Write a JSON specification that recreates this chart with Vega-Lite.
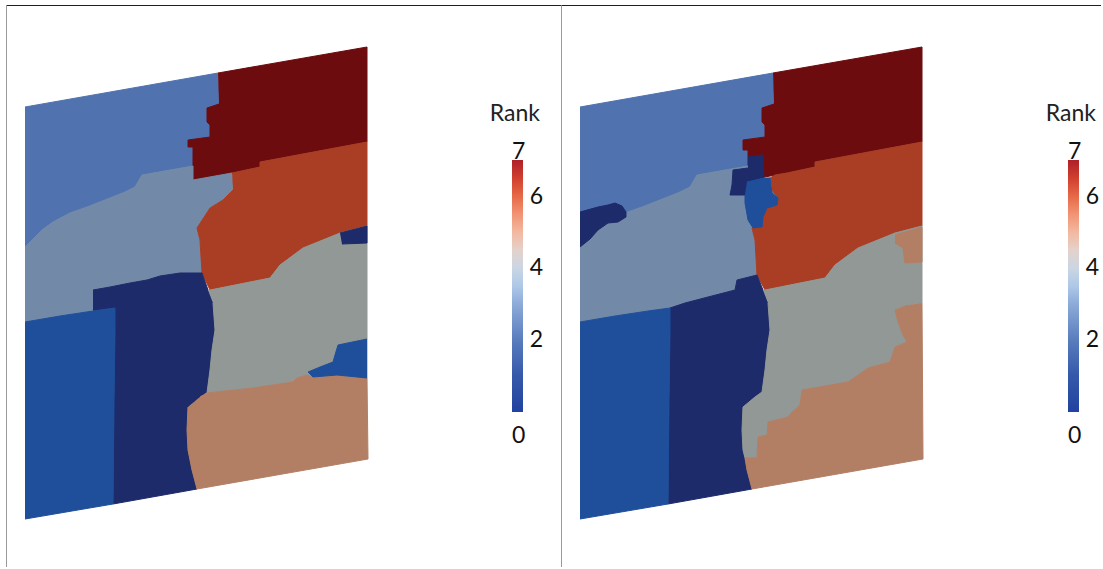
{
"$schema": "https://vega.github.io/schema/vega-lite/v6.json",
"background": "white",
"padding": {"left": 6, "top": 5, "right": 0, "bottom": 0},
"spacing": 0,
"bounds": "flush",
"resolve": {"scale": {"color": "independent", "fill": "independent", "stroke": "independent"}, "legend": {"color": "independent"}},
"config": {
  "view": {"stroke": null},
  "axis": {"ticks": false, "labels": false, "grid": false, "domainWidth": 1},
  "concat": {"spacing": 0}
},
"datasets": {
"ranks": [{"v": 0}, {"v": 7}],
"Lb": [
{"poly":"r2","rank":2,"x":25,"y":107},{"poly":"r2","rank":2,"x":218,"y":73},{"poly":"r2","rank":2,"x":219,"y":104},{"poly":"r2","rank":2,"x":207,"y":108},{"poly":"r2","rank":2,"x":207,"y":122},{"poly":"r2","rank":2,"x":210,"y":125},{"poly":"r2","rank":2,"x":210,"y":137},{"poly":"r2","rank":2,"x":188,"y":140},{"poly":"r2","rank":2,"x":188,"y":147},{"poly":"r2","rank":2,"x":193,"y":147},{"poly":"r2","rank":2,"x":193,"y":166},{"poly":"r2","rank":2,"x":142,"y":175},{"poly":"r2","rank":2,"x":135,"y":187},{"poly":"r2","rank":2,"x":125,"y":192},{"poly":"r2","rank":2,"x":110,"y":198},{"poly":"r2","rank":2,"x":87,"y":207},{"poly":"r2","rank":2,"x":70,"y":213},{"poly":"r2","rank":2,"x":53,"y":222},{"poly":"r2","rank":2,"x":42,"y":230},{"poly":"r2","rank":2,"x":35,"y":237},{"poly":"r2","rank":2,"x":25,"y":247},
{"poly":"r7","rank":7,"x":218,"y":73},{"poly":"r7","rank":7,"x":367,"y":47},{"poly":"r7","rank":7,"x":367,"y":142},{"poly":"r7","rank":7,"x":260,"y":162},{"poly":"r7","rank":7,"x":260,"y":167},{"poly":"r7","rank":7,"x":232,"y":173},{"poly":"r7","rank":7,"x":193,"y":180},{"poly":"r7","rank":7,"x":193,"y":147},{"poly":"r7","rank":7,"x":188,"y":147},{"poly":"r7","rank":7,"x":188,"y":140},{"poly":"r7","rank":7,"x":210,"y":137},{"poly":"r7","rank":7,"x":210,"y":125},{"poly":"r7","rank":7,"x":207,"y":122},{"poly":"r7","rank":7,"x":207,"y":108},{"poly":"r7","rank":7,"x":219,"y":104},
{"poly":"r3","rank":3,"x":25,"y":247},{"poly":"r3","rank":3,"x":35,"y":237},{"poly":"r3","rank":3,"x":42,"y":230},{"poly":"r3","rank":3,"x":53,"y":222},{"poly":"r3","rank":3,"x":70,"y":213},{"poly":"r3","rank":3,"x":87,"y":207},{"poly":"r3","rank":3,"x":110,"y":198},{"poly":"r3","rank":3,"x":125,"y":192},{"poly":"r3","rank":3,"x":135,"y":187},{"poly":"r3","rank":3,"x":142,"y":175},{"poly":"r3","rank":3,"x":193,"y":166},{"poly":"r3","rank":3,"x":193,"y":180},{"poly":"r3","rank":3,"x":232,"y":173},{"poly":"r3","rank":3,"x":233,"y":190},{"poly":"r3","rank":3,"x":223,"y":200},{"poly":"r3","rank":3,"x":210,"y":208},{"poly":"r3","rank":3,"x":197,"y":228},{"poly":"r3","rank":3,"x":200,"y":240},{"poly":"r3","rank":3,"x":202,"y":273},{"poly":"r3","rank":3,"x":180,"y":273},{"poly":"r3","rank":3,"x":160,"y":276},{"poly":"r3","rank":3,"x":147,"y":280},{"poly":"r3","rank":3,"x":130,"y":283},{"poly":"r3","rank":3,"x":110,"y":287},{"poly":"r3","rank":3,"x":93,"y":290},{"poly":"r3","rank":3,"x":93,"y":311},{"poly":"r3","rank":3,"x":60,"y":316},{"poly":"r3","rank":3,"x":25,"y":322},
{"poly":"r6","rank":6,"x":232,"y":173},{"poly":"r6","rank":6,"x":260,"y":167},{"poly":"r6","rank":6,"x":260,"y":162},{"poly":"r6","rank":6,"x":367,"y":142},{"poly":"r6","rank":6,"x":367,"y":226},{"poly":"r6","rank":6,"x":340,"y":233},{"poly":"r6","rank":6,"x":303,"y":248},{"poly":"r6","rank":6,"x":280,"y":265},{"poly":"r6","rank":6,"x":270,"y":278},{"poly":"r6","rank":6,"x":210,"y":290},{"poly":"r6","rank":6,"x":202,"y":273},{"poly":"r6","rank":6,"x":200,"y":240},{"poly":"r6","rank":6,"x":197,"y":228},{"poly":"r6","rank":6,"x":210,"y":208},{"poly":"r6","rank":6,"x":223,"y":200},{"poly":"r6","rank":6,"x":233,"y":190},
{"poly":"r0","rank":0,"x":93,"y":290},{"poly":"r0","rank":0,"x":110,"y":287},{"poly":"r0","rank":0,"x":130,"y":283},{"poly":"r0","rank":0,"x":147,"y":280},{"poly":"r0","rank":0,"x":160,"y":276},{"poly":"r0","rank":0,"x":180,"y":273},{"poly":"r0","rank":0,"x":202,"y":273},{"poly":"r0","rank":0,"x":208,"y":290},{"poly":"r0","rank":0,"x":213,"y":303},{"poly":"r0","rank":0,"x":215,"y":330},{"poly":"r0","rank":0,"x":212,"y":350},{"poly":"r0","rank":0,"x":210,"y":370},{"poly":"r0","rank":0,"x":207,"y":392},{"poly":"r0","rank":0,"x":200,"y":397},{"poly":"r0","rank":0,"x":188,"y":407},{"poly":"r0","rank":0,"x":187,"y":430},{"poly":"r0","rank":0,"x":188,"y":450},{"poly":"r0","rank":0,"x":192,"y":470},{"poly":"r0","rank":0,"x":197,"y":489},{"poly":"r0","rank":0,"x":113,"y":504},{"poly":"r0","rank":0,"x":114,"y":400},{"poly":"r0","rank":0,"x":115,"y":330},{"poly":"r0","rank":0,"x":115,"y":308},{"poly":"r0","rank":0,"x":93,"y":311},
{"poly":"r1","rank":1,"x":25,"y":322},{"poly":"r1","rank":1,"x":60,"y":316},{"poly":"r1","rank":1,"x":93,"y":311},{"poly":"r1","rank":1,"x":115,"y":308},{"poly":"r1","rank":1,"x":115,"y":330},{"poly":"r1","rank":1,"x":114,"y":400},{"poly":"r1","rank":1,"x":113,"y":504},{"poly":"r1","rank":1,"x":25,"y":519},
{"poly":"r4","rank":4,"x":208,"y":290},{"poly":"r4","rank":4,"x":210,"y":290},{"poly":"r4","rank":4,"x":270,"y":278},{"poly":"r4","rank":4,"x":280,"y":265},{"poly":"r4","rank":4,"x":303,"y":248},{"poly":"r4","rank":4,"x":340,"y":233},{"poly":"r4","rank":4,"x":367,"y":226},{"poly":"r4","rank":4,"x":367,"y":378},{"poly":"r4","rank":4,"x":337,"y":375},{"poly":"r4","rank":4,"x":313,"y":377},{"poly":"r4","rank":4,"x":307,"y":375},{"poly":"r4","rank":4,"x":297,"y":378},{"poly":"r4","rank":4,"x":293,"y":382},{"poly":"r4","rank":4,"x":253,"y":388},{"poly":"r4","rank":4,"x":207,"y":393},{"poly":"r4","rank":4,"x":210,"y":370},{"poly":"r4","rank":4,"x":212,"y":350},{"poly":"r4","rank":4,"x":215,"y":330},{"poly":"r4","rank":4,"x":213,"y":303},
{"poly":"r5","rank":5,"x":200,"y":397},{"poly":"r5","rank":5,"x":207,"y":393},{"poly":"r5","rank":5,"x":253,"y":388},{"poly":"r5","rank":5,"x":293,"y":382},{"poly":"r5","rank":5,"x":297,"y":378},{"poly":"r5","rank":5,"x":307,"y":375},{"poly":"r5","rank":5,"x":313,"y":377},{"poly":"r5","rank":5,"x":337,"y":375},{"poly":"r5","rank":5,"x":367,"y":378},{"poly":"r5","rank":5,"x":368,"y":459},{"poly":"r5","rank":5,"x":197,"y":489},{"poly":"r5","rank":5,"x":192,"y":470},{"poly":"r5","rank":5,"x":188,"y":450},{"poly":"r5","rank":5,"x":187,"y":430},{"poly":"r5","rank":5,"x":188,"y":407}
],
"Lp": [
{"poly":"p0","rank":0,"x":340,"y":233},{"poly":"p0","rank":0,"x":367,"y":226},{"poly":"p0","rank":0,"x":367,"y":243},{"poly":"p0","rank":0,"x":342,"y":244},
{"poly":"p1","rank":1,"x":367,"y":339},{"poly":"p1","rank":1,"x":338,"y":345},{"poly":"p1","rank":1,"x":335,"y":355},{"poly":"p1","rank":1,"x":333,"y":362},{"poly":"p1","rank":1,"x":320,"y":367},{"poly":"p1","rank":1,"x":308,"y":372},{"poly":"p1","rank":1,"x":313,"y":377},{"poly":"p1","rank":1,"x":337,"y":375},{"poly":"p1","rank":1,"x":367,"y":378}
],
"Rb": [
{"poly":"r2","rank":2,"x":25,"y":107},{"poly":"r2","rank":2,"x":218,"y":73},{"poly":"r2","rank":2,"x":219,"y":104},{"poly":"r2","rank":2,"x":207,"y":108},{"poly":"r2","rank":2,"x":207,"y":122},{"poly":"r2","rank":2,"x":210,"y":125},{"poly":"r2","rank":2,"x":210,"y":137},{"poly":"r2","rank":2,"x":188,"y":140},{"poly":"r2","rank":2,"x":188,"y":148},{"poly":"r2","rank":2,"x":193,"y":148},{"poly":"r2","rank":2,"x":193,"y":166},{"poly":"r2","rank":2,"x":142,"y":175},{"poly":"r2","rank":2,"x":135,"y":187},{"poly":"r2","rank":2,"x":125,"y":192},{"poly":"r2","rank":2,"x":110,"y":198},{"poly":"r2","rank":2,"x":87,"y":207},{"poly":"r2","rank":2,"x":70,"y":213},{"poly":"r2","rank":2,"x":53,"y":222},{"poly":"r2","rank":2,"x":42,"y":230},{"poly":"r2","rank":2,"x":35,"y":237},{"poly":"r2","rank":2,"x":25,"y":247},
{"poly":"r7","rank":7,"x":218,"y":73},{"poly":"r7","rank":7,"x":367,"y":47},{"poly":"r7","rank":7,"x":367,"y":142},{"poly":"r7","rank":7,"x":260,"y":162},{"poly":"r7","rank":7,"x":260,"y":167},{"poly":"r7","rank":7,"x":232,"y":173},{"poly":"r7","rank":7,"x":193,"y":180},{"poly":"r7","rank":7,"x":193,"y":150},{"poly":"r7","rank":7,"x":188,"y":150},{"poly":"r7","rank":7,"x":188,"y":140},{"poly":"r7","rank":7,"x":210,"y":137},{"poly":"r7","rank":7,"x":210,"y":125},{"poly":"r7","rank":7,"x":207,"y":122},{"poly":"r7","rank":7,"x":207,"y":108},{"poly":"r7","rank":7,"x":219,"y":104},
{"poly":"r3","rank":3,"x":25,"y":247},{"poly":"r3","rank":3,"x":35,"y":237},{"poly":"r3","rank":3,"x":42,"y":230},{"poly":"r3","rank":3,"x":53,"y":222},{"poly":"r3","rank":3,"x":70,"y":213},{"poly":"r3","rank":3,"x":87,"y":207},{"poly":"r3","rank":3,"x":110,"y":198},{"poly":"r3","rank":3,"x":125,"y":192},{"poly":"r3","rank":3,"x":135,"y":187},{"poly":"r3","rank":3,"x":142,"y":175},{"poly":"r3","rank":3,"x":193,"y":166},{"poly":"r3","rank":3,"x":193,"y":180},{"poly":"r3","rank":3,"x":215,"y":178},{"poly":"r3","rank":3,"x":217,"y":190},{"poly":"r3","rank":3,"x":222,"y":197},{"poly":"r3","rank":3,"x":223,"y":203},{"poly":"r3","rank":3,"x":210,"y":210},{"poly":"r3","rank":3,"x":207,"y":218},{"poly":"r3","rank":3,"x":205,"y":225},{"poly":"r3","rank":3,"x":197,"y":228},{"poly":"r3","rank":3,"x":200,"y":240},{"poly":"r3","rank":3,"x":202,"y":275},{"poly":"r3","rank":3,"x":182,"y":280},{"poly":"r3","rank":3,"x":180,"y":290},{"poly":"r3","rank":3,"x":153,"y":297},{"poly":"r3","rank":3,"x":130,"y":303},{"poly":"r3","rank":3,"x":115,"y":308},{"poly":"r3","rank":3,"x":93,"y":311},{"poly":"r3","rank":3,"x":60,"y":316},{"poly":"r3","rank":3,"x":25,"y":322},
{"poly":"r6","rank":6,"x":215,"y":178},{"poly":"r6","rank":6,"x":220,"y":175},{"poly":"r6","rank":6,"x":232,"y":173},{"poly":"r6","rank":6,"x":260,"y":167},{"poly":"r6","rank":6,"x":260,"y":162},{"poly":"r6","rank":6,"x":367,"y":142},{"poly":"r6","rank":6,"x":367,"y":226},{"poly":"r6","rank":6,"x":340,"y":233},{"poly":"r6","rank":6,"x":303,"y":248},{"poly":"r6","rank":6,"x":280,"y":265},{"poly":"r6","rank":6,"x":270,"y":278},{"poly":"r6","rank":6,"x":210,"y":290},{"poly":"r6","rank":6,"x":202,"y":275},{"poly":"r6","rank":6,"x":200,"y":240},{"poly":"r6","rank":6,"x":197,"y":228},{"poly":"r6","rank":6,"x":205,"y":225},{"poly":"r6","rank":6,"x":207,"y":218},{"poly":"r6","rank":6,"x":210,"y":210},{"poly":"r6","rank":6,"x":223,"y":203},{"poly":"r6","rank":6,"x":222,"y":197},{"poly":"r6","rank":6,"x":217,"y":190},
{"poly":"r0","rank":0,"x":115,"y":308},{"poly":"r0","rank":0,"x":130,"y":303},{"poly":"r0","rank":0,"x":153,"y":297},{"poly":"r0","rank":0,"x":180,"y":290},{"poly":"r0","rank":0,"x":182,"y":280},{"poly":"r0","rank":0,"x":202,"y":275},{"poly":"r0","rank":0,"x":208,"y":290},{"poly":"r0","rank":0,"x":213,"y":303},{"poly":"r0","rank":0,"x":215,"y":330},{"poly":"r0","rank":0,"x":212,"y":350},{"poly":"r0","rank":0,"x":210,"y":370},{"poly":"r0","rank":0,"x":207,"y":392},{"poly":"r0","rank":0,"x":200,"y":397},{"poly":"r0","rank":0,"x":188,"y":407},{"poly":"r0","rank":0,"x":187,"y":430},{"poly":"r0","rank":0,"x":188,"y":450},{"poly":"r0","rank":0,"x":192,"y":470},{"poly":"r0","rank":0,"x":197,"y":489},{"poly":"r0","rank":0,"x":113,"y":504},{"poly":"r0","rank":0,"x":114,"y":400},{"poly":"r0","rank":0,"x":115,"y":330},
{"poly":"r1","rank":1,"x":25,"y":322},{"poly":"r1","rank":1,"x":60,"y":316},{"poly":"r1","rank":1,"x":93,"y":311},{"poly":"r1","rank":1,"x":115,"y":308},{"poly":"r1","rank":1,"x":115,"y":330},{"poly":"r1","rank":1,"x":114,"y":400},{"poly":"r1","rank":1,"x":113,"y":504},{"poly":"r1","rank":1,"x":25,"y":519},
{"poly":"r4","rank":4,"x":208,"y":290},{"poly":"r4","rank":4,"x":210,"y":290},{"poly":"r4","rank":4,"x":270,"y":278},{"poly":"r4","rank":4,"x":280,"y":265},{"poly":"r4","rank":4,"x":303,"y":248},{"poly":"r4","rank":4,"x":340,"y":233},{"poly":"r4","rank":4,"x":367,"y":226},{"poly":"r4","rank":4,"x":367,"y":303},{"poly":"r4","rank":4,"x":353,"y":305},{"poly":"r4","rank":4,"x":340,"y":310},{"poly":"r4","rank":4,"x":343,"y":322},{"poly":"r4","rank":4,"x":348,"y":335},{"poly":"r4","rank":4,"x":352,"y":342},{"poly":"r4","rank":4,"x":340,"y":347},{"poly":"r4","rank":4,"x":335,"y":362},{"poly":"r4","rank":4,"x":313,"y":368},{"poly":"r4","rank":4,"x":293,"y":382},{"poly":"r4","rank":4,"x":247,"y":390},{"poly":"r4","rank":4,"x":245,"y":405},{"poly":"r4","rank":4,"x":237,"y":412},{"poly":"r4","rank":4,"x":233,"y":417},{"poly":"r4","rank":4,"x":213,"y":422},{"poly":"r4","rank":4,"x":212,"y":435},{"poly":"r4","rank":4,"x":203,"y":437},{"poly":"r4","rank":4,"x":202,"y":458},{"poly":"r4","rank":4,"x":190,"y":458},{"poly":"r4","rank":4,"x":188,"y":450},{"poly":"r4","rank":4,"x":187,"y":430},{"poly":"r4","rank":4,"x":188,"y":407},{"poly":"r4","rank":4,"x":200,"y":397},{"poly":"r4","rank":4,"x":207,"y":392},{"poly":"r4","rank":4,"x":210,"y":370},{"poly":"r4","rank":4,"x":212,"y":350},{"poly":"r4","rank":4,"x":215,"y":330},{"poly":"r4","rank":4,"x":213,"y":303},
{"poly":"r5","rank":5,"x":367,"y":303},{"poly":"r5","rank":5,"x":368,"y":459},{"poly":"r5","rank":5,"x":197,"y":489},{"poly":"r5","rank":5,"x":192,"y":470},{"poly":"r5","rank":5,"x":190,"y":458},{"poly":"r5","rank":5,"x":202,"y":458},{"poly":"r5","rank":5,"x":203,"y":437},{"poly":"r5","rank":5,"x":212,"y":435},{"poly":"r5","rank":5,"x":213,"y":422},{"poly":"r5","rank":5,"x":233,"y":417},{"poly":"r5","rank":5,"x":237,"y":412},{"poly":"r5","rank":5,"x":245,"y":405},{"poly":"r5","rank":5,"x":247,"y":390},{"poly":"r5","rank":5,"x":293,"y":382},{"poly":"r5","rank":5,"x":313,"y":368},{"poly":"r5","rank":5,"x":335,"y":362},{"poly":"r5","rank":5,"x":340,"y":347},{"poly":"r5","rank":5,"x":352,"y":342},{"poly":"r5","rank":5,"x":348,"y":335},{"poly":"r5","rank":5,"x":343,"y":322},{"poly":"r5","rank":5,"x":340,"y":310},{"poly":"r5","rank":5,"x":353,"y":305}
],
"Rp": [
{"poly":"pA","rank":0,"x":193,"y":157},{"poly":"pA","rank":0,"x":208,"y":155},{"poly":"pA","rank":0,"x":209,"y":178},{"poly":"pA","rank":0,"x":192,"y":182},{"poly":"pA","rank":0,"x":190,"y":195},{"poly":"pA","rank":0,"x":175,"y":195},{"poly":"pA","rank":0,"x":177,"y":185},{"poly":"pA","rank":0,"x":178,"y":170},{"poly":"pA","rank":0,"x":193,"y":168},
{"poly":"pB","rank":0,"x":25,"y":212},{"poly":"pB","rank":0,"x":43,"y":207},{"poly":"pB","rank":0,"x":53,"y":205},{"poly":"pB","rank":0,"x":60,"y":203},{"poly":"pB","rank":0,"x":67,"y":206},{"poly":"pB","rank":0,"x":71,"y":212},{"poly":"pB","rank":0,"x":71,"y":217},{"poly":"pB","rank":0,"x":63,"y":222},{"poly":"pB","rank":0,"x":53,"y":223},{"poly":"pB","rank":0,"x":43,"y":230},{"poly":"pB","rank":0,"x":35,"y":239},{"poly":"pB","rank":0,"x":25,"y":247},
{"poly":"pC","rank":1,"x":192,"y":182},{"poly":"pC","rank":1,"x":209,"y":178},{"poly":"pC","rank":1,"x":215,"y":178},{"poly":"pC","rank":1,"x":217,"y":193},{"poly":"pC","rank":1,"x":223,"y":198},{"poly":"pC","rank":1,"x":222,"y":205},{"poly":"pC","rank":1,"x":212,"y":208},{"poly":"pC","rank":1,"x":208,"y":217},{"poly":"pC","rank":1,"x":207,"y":227},{"poly":"pC","rank":1,"x":198,"y":228},{"poly":"pC","rank":1,"x":193,"y":220},{"poly":"pC","rank":1,"x":190,"y":203},{"poly":"pC","rank":1,"x":190,"y":195},
{"poly":"pD","rank":5,"x":340,"y":235},{"poly":"pD","rank":5,"x":367,"y":227},{"poly":"pD","rank":5,"x":367,"y":262},{"poly":"pD","rank":5,"x":350,"y":263},{"poly":"pD","rank":5,"x":348,"y":248},{"poly":"pD","rank":5,"x":340,"y":243}
]
},
"hconcat": [
{
  "width": 555, "height": 562,
  "resolve": {"scale": {"color": "independent"}, "legend": {"color": "independent"}},
  "layer": [
    {"data": {"name": "Lb"},
     "mark": {"type": "line", "filled": true, "strokeWidth": 1, "strokeJoin": "round"},
     "encoding": {
       "x": {"field": "x", "type": "quantitative", "scale": {"domain": [6, 561], "nice": false, "zero": false}, "axis": {"orient": "top", "title": null, "domainColor": "#1e1e1e"}},
       "y": {"field": "y", "type": "quantitative", "scale": {"domain": [5, 567], "reverse": true, "nice": false, "zero": false}, "axis": {"orient": "left", "title": null, "domainColor": "#9a9a9a"}},
       "detail": {"field": "poly"},
       "order": {"value": null},
       "fill": {"field": "rank", "type": "ordinal", "scale": {"domain": [0,1,2,3,4,5,6,7], "range": ["#1d2b6a","#1f4f9b","#5073af","#728aa7","#929896","#b27f65","#a93e25","#6d0c0e"]}, "legend": null},
       "stroke": {"field": "rank", "type": "ordinal", "scale": {"domain": [0,1,2,3,4,5,6,7], "range": ["#1d2b6a","#1f4f9b","#5073af","#728aa7","#929896","#b27f65","#a93e25","#6d0c0e"]}, "legend": null}
     }},
    {"data": {"name": "Lp"},
     "mark": {"type": "line", "filled": true, "strokeWidth": 1, "strokeJoin": "round"},
     "encoding": {
       "x": {"field": "x", "type": "quantitative", "scale": {"domain": [6, 561], "nice": false, "zero": false}, "axis": {"orient": "top", "title": null, "domainColor": "#1e1e1e"}},
       "y": {"field": "y", "type": "quantitative", "scale": {"domain": [5, 567], "reverse": true, "nice": false, "zero": false}, "axis": {"orient": "left", "title": null, "domainColor": "#9a9a9a"}},
       "detail": {"field": "poly"},
       "order": {"value": null},
       "fill": {"field": "rank", "type": "ordinal", "scale": {"domain": [0,1,2,3,4,5,6,7], "range": ["#1d2b6a","#1f4f9b","#5073af","#728aa7","#929896","#b27f65","#a93e25","#6d0c0e"]}, "legend": null},
       "stroke": {"field": "rank", "type": "ordinal", "scale": {"domain": [0,1,2,3,4,5,6,7], "range": ["#1d2b6a","#1f4f9b","#5073af","#728aa7","#929896","#b27f65","#a93e25","#6d0c0e"]}, "legend": null}
     }},
    {"data": {"name": "ranks"},
     "mark": {"type": "point", "size": 0, "filled": true, "strokeWidth": 0, "opacity": 1},
     "encoding": {
       "color": {"field": "v", "type": "quantitative",
         "scale": {"domain": [-0.02,0,1,2,3,3.5,4,4.3,5,5.5,6,6.5,7,7.02], "range": ["#2142a0","#2142a0","#3559aa","#5a7dbe","#8dabd9","#aec8e8","#cad6e3","#dcdcdc","#f3b8a0","#f19474","#e66a47","#d2402e","#b0212a","#b0212a"]},
         "legend": {"title": "\u200b\u00a0Rank", "orient": "none", "legendX": 478, "legendY": 98, "direction": "vertical",
           "gradientLength": 252, "gradientThickness": 11, "gradientStrokeWidth": 0, "gradientOpacity": 1,
           "values": [0,2,4,6,7.55], "labelOverlap": false,
           "labelExpr": "datum.value > 7 ? '7' : datum.value === 0 ? ['', '', '0'] : '\u200b\u00a0\u00a0\u00a0' + datum.label",
           "labelFont": "Lato", "labelFontSize": 23, "labelColor": "#111111", "labelOffset": -11,
           "titleFont": "Lato", "titleFontSize": 23, "titleFontWeight": "normal", "titleColor": "#222222",
           "titlePadding": 34, "titleAnchor": "start", "titleAlign": "center", "padding": 0}}
     }}
  ]
},
{
  "width": 540, "height": 562,
  "resolve": {"scale": {"color": "independent"}, "legend": {"color": "independent"}},
  "layer": [
    {"data": {"name": "Rb"},
     "mark": {"type": "line", "filled": true, "strokeWidth": 1, "strokeJoin": "round"},
     "encoding": {
       "x": {"field": "x", "type": "quantitative", "scale": {"domain": [6, 546], "nice": false, "zero": false}, "axis": {"orient": "top", "title": null, "domainColor": "#1e1e1e"}},
       "y": {"field": "y", "type": "quantitative", "scale": {"domain": [5, 567], "reverse": true, "nice": false, "zero": false}, "axis": {"orient": "left", "title": null, "domainColor": "#9a9a9a"}},
       "detail": {"field": "poly"},
       "order": {"value": null},
       "fill": {"field": "rank", "type": "ordinal", "scale": {"domain": [0,1,2,3,4,5,6,7], "range": ["#1d2b6a","#1f4f9b","#5073af","#728aa7","#929896","#b27f65","#a93e25","#6d0c0e"]}, "legend": null},
       "stroke": {"field": "rank", "type": "ordinal", "scale": {"domain": [0,1,2,3,4,5,6,7], "range": ["#1d2b6a","#1f4f9b","#5073af","#728aa7","#929896","#b27f65","#a93e25","#6d0c0e"]}, "legend": null}
     }},
    {"data": {"name": "Rp"},
     "mark": {"type": "line", "filled": true, "strokeWidth": 1, "strokeJoin": "round"},
     "encoding": {
       "x": {"field": "x", "type": "quantitative", "scale": {"domain": [6, 546], "nice": false, "zero": false}, "axis": {"orient": "top", "title": null, "domainColor": "#1e1e1e"}},
       "y": {"field": "y", "type": "quantitative", "scale": {"domain": [5, 567], "reverse": true, "nice": false, "zero": false}, "axis": {"orient": "left", "title": null, "domainColor": "#9a9a9a"}},
       "detail": {"field": "poly"},
       "order": {"value": null},
       "fill": {"field": "rank", "type": "ordinal", "scale": {"domain": [0,1,2,3,4,5,6,7], "range": ["#1d2b6a","#1f4f9b","#5073af","#728aa7","#929896","#b27f65","#a93e25","#6d0c0e"]}, "legend": null},
       "stroke": {"field": "rank", "type": "ordinal", "scale": {"domain": [0,1,2,3,4,5,6,7], "range": ["#1d2b6a","#1f4f9b","#5073af","#728aa7","#929896","#b27f65","#a93e25","#6d0c0e"]}, "legend": null}
     }},
    {"data": {"name": "ranks"},
     "mark": {"type": "point", "size": 0, "filled": true, "strokeWidth": 0, "opacity": 1},
     "encoding": {
       "color": {"field": "v", "type": "quantitative",
         "scale": {"domain": [-0.02,0,1,2,3,3.5,4,4.3,5,5.5,6,6.5,7,7.02], "range": ["#2142a0","#2142a0","#3559aa","#5a7dbe","#8dabd9","#aec8e8","#cad6e3","#dcdcdc","#f3b8a0","#f19474","#e66a47","#d2402e","#b0212a","#b0212a"]},
         "legend": {"title": "\u200b\u00a0Rank", "orient": "none", "legendX": 479, "legendY": 98, "direction": "vertical",
           "gradientLength": 252, "gradientThickness": 11, "gradientStrokeWidth": 0, "gradientOpacity": 1,
           "values": [0,2,4,6,7.55], "labelOverlap": false,
           "labelExpr": "datum.value > 7 ? '7' : datum.value === 0 ? ['', '', '0'] : '\u200b\u00a0\u00a0\u00a0' + datum.label",
           "labelFont": "Lato", "labelFontSize": 23, "labelColor": "#111111", "labelOffset": -11,
           "titleFont": "Lato", "titleFontSize": 23, "titleFontWeight": "normal", "titleColor": "#222222",
           "titlePadding": 34, "titleAnchor": "start", "titleAlign": "center", "padding": 0}}
     }}
  ]
}
]
}
